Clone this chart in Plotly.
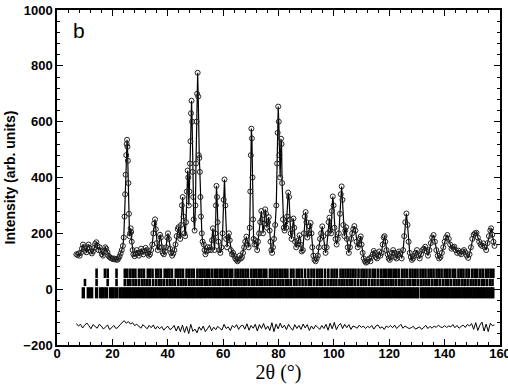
import numpy as np
import plotly.graph_objects as go

# ---------------- data ----------------
two_theta_obs = [
    7.0, 7.4, 7.8, 8.2, 8.6, 9.0, 9.4, 9.8, 10.2, 10.6,
    11.0, 11.4, 11.8, 12.2, 12.6, 13.0, 13.4, 13.8, 14.2, 14.6,
    15.0, 15.4, 15.8, 16.2, 16.6, 17.0, 17.4, 17.8, 18.2, 18.6,
    19.0, 19.4, 19.8, 20.2, 20.6, 21.0, 21.4, 21.8, 22.2, 22.6,
    23.0, 23.4, 23.8, 24.1, 24.4, 24.6, 24.8, 25.0, 25.15, 25.3,
    25.45, 25.6, 25.8, 26.0, 26.2, 26.4, 26.6, 26.8, 27.0, 27.3,
    27.6, 28.0, 28.4, 28.8, 29.2, 29.6, 30.0, 30.4, 30.8, 31.2,
    31.6, 32.0, 32.4, 32.8, 33.2, 33.6, 34.0, 34.4, 34.8, 35.1,
    35.4, 35.7, 36.0, 36.4, 36.8, 37.2, 37.5, 37.8, 38.2, 38.6,
    39.0, 39.4, 39.8, 40.1, 40.4, 40.8, 41.2, 41.6, 42.0, 42.4,
    42.8, 43.2, 43.6, 43.9, 44.2, 44.5, 44.8, 45.1, 45.4, 45.7,
    46.0, 46.3, 46.6, 46.9, 47.2, 47.4, 47.6, 47.8, 48.0, 48.2,
    48.4, 48.6, 48.8, 49.0, 49.2, 49.4, 49.7, 50.0, 50.2, 50.4,
    50.6, 50.8, 51.0, 51.2, 51.4, 51.6, 51.8, 52.0, 52.3, 52.6,
    53.0, 53.3, 53.6, 54.0, 54.4, 54.8, 55.2, 55.6, 56.0, 56.3,
    56.6, 56.9, 57.2, 57.4, 57.6, 57.8, 58.0, 58.3, 58.6, 59.0,
    59.4, 59.8, 60.2, 60.5, 60.8, 61.1, 61.4, 61.8, 62.1, 62.4,
    62.8, 63.2, 63.6, 64.0, 64.4, 64.8, 65.2, 65.6, 66.0, 66.4,
    66.8, 67.2, 67.6, 68.0, 68.4, 68.8, 69.2, 69.6, 69.8, 70.0,
    70.2, 70.4, 70.6, 70.8, 71.0, 71.3, 71.6, 72.0, 72.3, 72.6,
    73.0, 73.4, 73.8, 74.1, 74.4, 74.8, 75.2, 75.5, 75.8, 76.2,
    76.5, 76.8, 77.1, 77.4, 77.7, 78.0, 78.4, 78.8, 79.2, 79.5,
    79.7, 79.9, 80.1, 80.3, 80.6, 80.9, 81.1, 81.3, 81.6, 81.9,
    82.2, 82.5, 82.8, 83.1, 83.5, 83.8, 84.1, 84.4, 84.7, 85.0,
    85.4, 85.7, 86.0, 86.4, 86.8, 87.2, 87.6, 88.0, 88.4, 88.8,
    89.2, 89.5, 89.8, 90.1, 90.4, 90.8, 91.2, 91.6, 91.9, 92.2,
    92.6, 93.0, 93.4, 93.8, 94.2, 94.6, 95.0, 95.4, 95.8, 96.2,
    96.6, 97.0, 97.4, 97.8, 98.1, 98.4, 98.7, 99.0, 99.3, 99.6,
    99.9, 100.2, 100.6, 101.0, 101.4, 101.8, 102.2, 102.5, 102.8, 103.1,
    103.4, 103.8, 104.1, 104.4, 104.7, 105.0, 105.4, 105.8, 106.2, 106.6,
    107.0, 107.4, 107.8, 108.2, 108.6, 109.0, 109.4, 109.7, 110.0, 110.4,
    110.8, 111.2, 111.6, 112.0, 112.4, 112.8, 113.2, 113.6, 114.0, 114.4,
    114.8, 115.2, 115.6, 116.0, 116.4, 116.8, 117.2, 117.6, 118.0, 118.3,
    118.6, 119.0, 119.4, 119.8, 120.2, 120.6, 121.0, 121.4, 121.8, 122.2,
    122.6, 123.0, 123.5, 124.0, 124.5, 125.0, 125.4, 125.8, 126.2, 126.6,
    127.0, 127.4, 127.8, 128.2, 128.6, 129.0, 129.5, 130.0, 130.5, 131.0,
    131.5, 132.0, 132.5, 133.0, 133.5, 134.0, 134.5, 135.0, 135.5, 136.0,
    136.5, 137.0, 137.5, 138.0, 138.5, 139.0, 139.5, 140.0, 140.5, 141.0,
    141.5, 142.0, 142.5, 143.0, 143.5, 144.0, 144.5, 145.0, 145.5, 146.0,
    146.5, 147.0, 147.5, 148.0, 148.5, 149.0, 149.5, 150.0, 150.5, 151.0,
    151.5, 152.0, 152.5, 153.0, 153.5, 154.0, 154.5, 155.0, 155.5, 156.0,
    156.5, 156.8, 157.2, 157.6, 158.0,
]
intensity_obs = [
    125, 122, 128, 120, 130, 145, 160, 150, 138, 132,
    150, 160, 148, 135, 128, 135, 148, 162, 168, 155,
    140, 150, 138, 125, 120, 135, 150, 145, 132, 120,
    115, 112, 110, 108, 110, 106, 108, 105, 110, 118,
    128, 140, 155, 185, 260, 340, 410, 480, 520, 535,
    510, 460, 380, 270, 190, 200, 218, 205, 170, 140,
    125, 118, 125, 140, 130, 120, 128, 145, 135, 125,
    135, 148, 140, 128, 120, 125, 140, 160, 200, 235,
    250, 215, 165, 140, 150, 195, 185, 150, 130, 125,
    135, 150, 185, 200, 180, 145, 130, 120, 128, 140,
    160, 190, 215, 222, 195, 180, 230, 300, 330, 260,
    200, 190, 240, 350, 425, 400, 300, 350, 450, 530,
    630, 675, 600, 420, 330, 250, 210, 300, 450, 600,
    700, 775, 690, 480, 470, 420, 330, 260, 200, 170,
    160, 140, 125, 135, 150, 140, 150, 140, 175, 218,
    180, 140, 200, 300, 370, 330, 240, 170, 140, 130,
    150, 200, 320, 393, 300, 180, 150, 185, 200, 175,
    140, 125, 130, 120, 110, 105, 100, 105, 120, 110,
    115, 130, 150, 170, 188, 160, 150, 220, 350, 480,
    575, 540, 400, 250, 180, 160, 175, 160, 140, 170,
    200, 240, 280, 250, 200, 235, 286, 270, 220, 240,
    258, 210, 170, 140, 130, 150, 180, 230, 300, 450,
    560, 654, 600, 480, 400, 539, 520, 380, 250, 220,
    210, 240, 220, 260, 346, 330, 250, 200, 180, 215,
    253, 220, 170, 150, 160, 175, 193, 160, 135, 140,
    200, 260, 276, 240, 185, 200, 225, 237, 200, 150,
    120, 105, 100, 110, 120, 150, 180, 200, 225, 190,
    150, 130, 150, 200, 240, 256, 210, 200, 280, 332,
    300, 220, 180, 160, 180, 200, 270, 340, 368, 320,
    230, 190, 210, 222, 180, 150, 130, 150, 180, 200,
    215, 226, 210, 170, 150, 160, 180, 189, 160, 130,
    110, 100, 95, 98, 105, 110, 100, 115, 125, 137,
    130, 115, 110, 120, 135, 120, 130, 160, 185, 190,
    170, 140, 125, 110, 105, 115, 130, 140, 130, 115,
    110, 125, 135, 128, 110, 140, 190, 240, 271, 230,
    170, 130, 115, 105, 110, 120, 130, 140, 120, 110,
    125, 140, 145, 152, 135, 120, 140, 165, 185, 194,
    170, 140, 120, 110, 115, 130, 150, 170, 185, 194,
    180, 160, 145, 150, 152, 140, 130, 138, 130, 125,
    135, 140, 132, 120, 112, 125, 150, 180, 195, 200,
    202, 185, 170, 160, 155, 164, 150, 140, 165, 190,
    210, 218, 195, 170, 155,
]
assert len(two_theta_obs) == len(intensity_obs)

# difference curve (obs - calc), measured on an even grid from 7 to 158 deg
diff_start, diff_end = 7.0, 158.0
diff_offset = -135
diff_resid = [
    12, 3, 9, -4, 6, 14, 4, -7, 8, 1,
    -5, 9, 3, -8, 0, 7, -10, -3, 5, -6,
    -2, 8, 16, 22, 13, 19, 10, 15, 5, 9,
    3, -5, 8, 0, -7, 5, -3, 7, -8, 2,
    -7, 1, -12, -3, 2, -10, -5, 5, -15, 3,
    -17, 6, -20, 2, -24, 9, -16, -8, -21, 0,
    -12, 3, -17, -7, 5, -14, -1, -10, 2, -6,
    -11, 9, -6, 0, -13, 5, -3, 8, -9, 3,
    6, -8, 11, -12, 5, -5, 9, -15, 8, -6,
    12, -9, 3, -13, 15, -17, 10, -7, 13, -4,
    6, -10, 9, -3, -12, 8, -6, 5, -9, 10,
    -4, 8, -13, 3, -8, 6, 0, -9, 5, -6,
    9, -12, 13, -7, 16, -10, 5, 12, -6, 9,
    -3, 8, -9, 3, 0, -5, 6, -2, 3, -6,
    2, -3, 5, -8, 3, 7, -5, 0, -9, 3,
    -2, 5, -3, 6, -6, 2, 9, -5, 3, -2,
    -6, -3, 2, -8, -5, 0, -9, -3, 5, -6,
    2, -5, 3, -2, 6, 0, -3, 5, -2, 3,
    0, 8, -3, 5, -5, 2, 6, -2, 9, 3,
    12, -9, 15, -13, 6, 17, -15, 10, -17, 13,
    4, 7,
]

# Bragg reflection positions (three rows of tick marks)
refl_row_a = [
    14.3, 17.3, 18.3, 21.5,
    24.5, 25.4, 26.5, 27.4, 28.3, 29.6, 30.5, 31.4, 32.8, 33.6,
    34.5, 35.8, 36.6, 37.5, 38.9, 39.8, 40.6, 41.5, 42.9, 43.8,
    44.6, 45.5, 46.8, 47.7, 48.6, 49.4, 50.7, 51.6, 52.5, 53.3,
    54.2, 55.0, 56.0, 57.0, 57.9, 58.8, 59.7, 60.6, 61.5, 62.4,
    63.3, 64.5, 65.4, 66.3, 67.2, 68.1, 69.0, 70.2, 71.1, 72.0,
    72.9, 73.8, 74.7, 75.6, 76.9, 77.8, 78.7, 79.6, 80.5, 81.4,
    82.3, 83.2, 84.5, 85.4, 86.6, 87.5, 88.4, 89.6, 90.8, 91.9,
    92.8, 93.9, 94.8, 95.6, 96.8, 98.0, 99.2, 100.2, 101.1, 102.4,
    103.3, 104.2, 105.1, 106.0, 106.9, 107.8, 108.9, 110.0, 110.9, 111.8,
    112.9, 114.0, 114.9, 116.0, 117.1, 118.0, 118.9, 119.8, 120.7, 121.6,
    122.5, 123.4, 124.6, 125.5, 126.4, 127.5, 128.4, 129.3, 130.2, 131.3,
    132.2, 133.1, 134.2, 135.1, 136.0, 137.1, 138.0, 138.9, 140.0, 140.9,
    141.8, 142.9, 143.8, 145.0, 145.9, 146.8, 147.9, 148.8, 150.0, 150.9,
    151.8, 152.9, 153.8, 154.9, 155.8, 156.7, 157.6,
]
refl_row_b = [
    10.1, 14.3, 18.3, 21.5,
    24.5, 25.6, 26.5, 27.6, 28.5, 29.6, 30.7, 31.6, 32.6, 33.5,
    34.7, 35.8, 36.8, 37.7, 38.7, 39.8, 40.8, 41.7, 42.6, 43.8,
    44.8, 45.7, 46.6, 47.7, 48.6, 49.6, 50.6, 51.5, 52.4, 53.4,
    54.3, 55.2, 56.2, 57.2, 58.1, 59.0, 60.0, 60.9, 61.8, 62.8,
    63.8, 64.7, 65.6, 66.6, 67.5, 68.4, 69.4, 70.4, 71.3, 72.3,
    73.2, 74.1, 75.0, 76.0, 76.9, 77.8, 78.8, 79.8, 80.7, 81.6,
    82.6, 83.5, 84.4, 85.6, 86.5, 87.6, 88.7, 89.8, 90.9, 91.8,
    92.9, 94.0, 94.9, 95.8, 96.9, 98.0, 99.0, 99.9, 100.9, 102.0,
    102.9, 103.8, 104.8, 105.7, 106.6, 107.6, 108.7, 109.8, 110.7, 111.6,
    112.7, 113.8, 114.7, 115.8, 116.9, 117.8, 118.7, 119.7, 120.6, 121.5,
    122.5, 123.6, 124.5, 125.5, 126.6, 127.5, 128.5, 129.4, 130.4, 131.5,
    132.4, 133.4, 134.3, 135.4, 136.4, 137.3, 138.3, 139.4, 140.4, 141.3,
    142.3, 143.4, 144.3, 145.3, 146.4, 147.3, 148.3, 149.4, 150.4, 151.3,
    152.3, 153.4, 154.3, 155.3, 156.4, 157.3,
]
refl_row_c = [
    9.5, 11.3, 12.5, 14.3, 15.8, 16.7, 17.9, 19.4, 20.3, 21.5,
    22.8, 23.8, 24.8, 25.8, 26.8, 27.8, 28.8, 29.8, 30.8, 31.8,
    32.8, 33.8, 34.8, 35.8, 36.8, 37.8, 38.8, 39.8, 40.8, 41.8,
    42.8, 43.8, 44.8, 45.8, 46.8, 47.6, 48.6, 49.5, 50.5, 51.5,
    52.3, 53.3, 54.3, 55.3, 56.3, 57.3, 58.3, 59.3, 60.3, 61.3,
    62.3, 63.3, 64.3, 65.3, 66.3, 67.3, 68.3, 69.3, 70.3, 71.3,
    72.3, 73.3, 74.3, 75.3, 76.3, 77.3, 78.3, 79.3, 80.3, 81.3,
    82.3, 83.3, 84.3, 85.3, 86.3, 87.3, 88.3, 89.3, 90.3, 91.3,
    92.3, 93.3, 94.3, 95.3, 96.3, 97.3, 98.3, 99.3, 100.3, 101.3,
    102.3, 103.3, 104.3, 105.3, 106.3, 107.3, 108.3, 109.3, 110.3, 111.3,
    112.3, 113.3, 114.3, 115.3, 116.3, 117.3, 118.3, 119.3, 120.3, 121.3,
    122.3, 123.3, 124.3, 125.3, 126.3, 127.3, 128.3, 129.3, 130.3, 131.7,
    132.6, 133.6, 134.6, 135.6, 136.6, 137.6, 138.6, 139.6, 140.6, 141.6,
    142.6, 143.6, 144.6, 145.6, 146.6, 147.6, 148.6, 149.6, 150.6, 151.6,
    152.6, 153.6, 154.6, 155.6, 156.6, 157.4,
]

# ---------------- styling constants ----------------
ROW_A = (40, 74)
ROW_B = (11, 37)
ROW_C = (-33, 7)
SANS = "Liberation Sans, Arial, sans-serif"
SERIF = "Liberation Serif, Times New Roman, serif"


def tick_segments(positions, y0, y1):
    xs, ys = [], []
    for p in positions:
        xs += [p, p, None]
        ys += [y0, y1, None]
    return xs, ys


fig = go.Figure()

for refl, (y0, y1), w in [(refl_row_a, ROW_A, 2.6), (refl_row_b, ROW_B, 2.6), (refl_row_c, ROW_C, 3.4)]:
    xs, ys = tick_segments(refl, y0, y1)
    fig.add_trace(go.Scatter(x=xs, y=ys, mode="lines",
                             line=dict(color="black", width=w),
                             hoverinfo="skip", showlegend=False))

diff_x = np.linspace(diff_start, diff_end, len(diff_resid))
diff_y = np.array(diff_resid) + diff_offset
fig.add_trace(go.Scatter(x=diff_x, y=diff_y, mode="lines",
                         line=dict(color="black", width=1), showlegend=False))

# calculated profile (line) and observed points (open circles)
fig.add_trace(go.Scatter(x=two_theta_obs, y=intensity_obs, mode="lines",
                         line=dict(color="black", width=1.2), showlegend=False))
fig.add_trace(go.Scatter(x=two_theta_obs, y=intensity_obs, mode="markers",
                         marker=dict(symbol="circle-open", size=5,
                                     color="#222222", line=dict(width=1)),
                         showlegend=False))

axis_common = dict(
    showline=True, linecolor="black", linewidth=1.5, mirror="allticks",
    ticks="inside", ticklen=6, tickwidth=1.3, tickcolor="black",
    showgrid=False, zeroline=False, ticklabeloverflow="allow",
    tickfont=dict(family=SANS, size=13, color="black", weight="bold"),
)

fig.update_layout(
    width=508, height=386,
    margin=dict(l=57, r=8, t=10, b=41, autoexpand=False),
    paper_bgcolor="white", plot_bgcolor="white",
    xaxis=dict(range=[0, 160], tick0=0, dtick=20, ticklabelstandoff=-4,
               minor=dict(dtick=4, ticklen=3, ticks="inside", tickcolor="black", tickwidth=1),
               title=dict(text="2θ (°)", font=dict(family=SERIF, size=20, color="black"),
                          standoff=3),
               **axis_common),
    yaxis=dict(range=[-200, 1000], tick0=0, dtick=200,
               minor=dict(dtick=40, ticklen=3, ticks="inside", tickcolor="black", tickwidth=1),
               title=dict(text="Intensity (arb. units)",
                          font=dict(family=SANS, size=14, color="black", weight="bold"),
                          standoff=4),
               **axis_common),
    annotations=[dict(text="b", x=0.05, y=0.94, xref="paper", yref="paper",
                      xanchor="center", yanchor="middle", showarrow=False,
                      font=dict(family=SANS, size=21, color="black"))],
)

fig.write_html("out.html", config={"displayModeBar": False},
               post_script="document.body.style.margin='0';")
